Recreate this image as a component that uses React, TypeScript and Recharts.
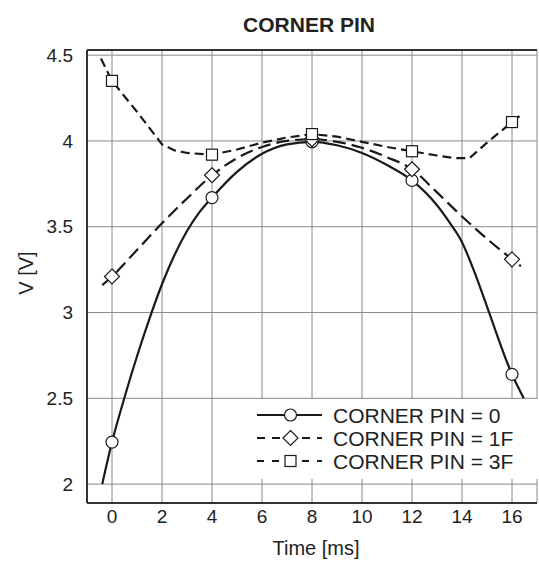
import React from 'react';
import {
  ComposedChart, Line, Scatter, XAxis, YAxis, CartesianGrid,
  ReferenceLine, Legend, Customized
} from 'recharts';

const FONT = '"Liberation Sans", Arial, Helvetica, sans-serif';
const INK = '#1a1a1a';

// axis ticks
const X_TICKS = [0, 2, 4, 6, 8, 10, 12, 14, 16];
const Y_TICKS = [2, 2.5, 3, 3.5, 4, 4.5];
const X_DOMAIN = [-1, 17];
const Y_DOMAIN = [1.89, 4.53];

// measured samples (markers)
const SAMPLE_TIMES = [0, 4, 8, 12, 16];
const PIN0_SAMPLES = [2.245, 3.67, 3.995, 3.77, 2.64];
const PIN1F_SAMPLES = [3.21, 3.8, 4.01, 3.835, 3.31];
const PIN3F_SAMPLES = [4.35, 3.92, 4.04, 3.94, 4.11];

// fitted curves: [time, volts]
const PIN0_CURVE: [number, number][] = [
  [-0.39, 2.0], [0, 2.245], [0.5, 2.505], [1, 2.745], [1.5, 2.965], [2, 3.165],
  [2.5, 3.335], [3, 3.475], [3.5, 3.585], [4, 3.67], [5, 3.82], [6, 3.925],
  [7, 3.98], [8, 3.995], [9, 3.975], [10, 3.93], [11, 3.86], [12, 3.77],
  [13, 3.625], [13.5, 3.525], [14, 3.41], [14.5, 3.235], [15, 3.035],
  [16, 2.64], [16.47, 2.5],
];
const PIN1F_CURVE: [number, number][] = [
  [-0.39, 3.16], [0, 3.21], [1, 3.365], [2, 3.52], [3, 3.665], [4, 3.8],
  [5, 3.9], [6, 3.965], [7, 4.0], [8, 4.01], [9, 3.995], [10, 3.96],
  [11, 3.905], [12, 3.835], [13, 3.7], [14, 3.56], [15, 3.43], [16, 3.31],
  [16.36, 3.27],
];
const PIN3F_CURVE: [number, number][] = [
  [-0.44, 4.48], [0, 4.35], [1, 4.17], [2, 3.98], [2.5, 3.945], [3, 3.93],
  [4, 3.92], [5, 3.95], [6, 3.99], [7, 4.02], [8, 4.04], [9, 4.025],
  [10, 3.995], [11, 3.965], [12, 3.94], [13, 3.915], [13.7, 3.9],
  [14.3, 3.9], [15, 3.99], [16, 4.11], [16.3, 4.145],
];

const toPoints = (pairs: [number, number][]) => pairs.map(([x, y]) => ({ x, y }));
const toSamples = (values: number[]) => SAMPLE_TIMES.map((x, i) => ({ x, y: values[i] }));

const SERIES = [
  { name: 'CORNER PIN = 0', curve: PIN0_CURVE, samples: PIN0_SAMPLES, dash: undefined, legendDash: undefined, marker: 'circle' },
  { name: 'CORNER PIN = 1F', curve: PIN1F_CURVE, samples: PIN1F_SAMPLES, dash: '13 6', legendDash: '8 7', marker: 'diamond' },
  { name: 'CORNER PIN = 3F', curve: PIN3F_CURVE, samples: PIN3F_SAMPLES, dash: '9 5', legendDash: '7 8', marker: 'square' },
];

const Marker = ({ kind, cx, cy }: { kind: string; cx: number; cy: number }) => {
  const common = { fill: '#fff', stroke: INK, strokeWidth: 1.2 };
  if (kind === 'circle') return <circle cx={cx} cy={cy} r={6} {...common} />;
  if (kind === 'diamond') {
    const r = 7.5;
    return <polygon points={`${cx},${cy - r} ${cx + r},${cy} ${cx},${cy + r} ${cx - r},${cy}`} {...common} />;
  }
  return <rect x={cx - 5.5} y={cy - 5.5} width={11} height={11} {...common} />;
};

const LegendBox = () => (
  <svg width={294} height={80} style={{ display: 'block', background: '#fff' }}>
    {SERIES.map((s, i) => {
      const cy = 16 + i * 23;
      return (
        <g key={s.name}>
          <line x1={12} x2={77} y1={cy} y2={cy} stroke={INK} strokeWidth={2.2} strokeDasharray={s.legendDash} />
          <Marker kind={s.marker} cx={45.5} cy={cy} />
          <text x={88} y={cy} dominantBaseline="central" fontFamily={FONT} fontSize={21} fill="#222">
            {s.name}
          </text>
        </g>
      );
    })}
  </svg>
);

const Titles = () => (
  <g fontFamily={FONT} fill="#222">
    <text x={309} y={32} textAnchor="middle" fontSize={21} fontWeight="bold">CORNER PIN</text>
    <text x={316} y={555} textAnchor="middle" fontSize={20}>Time [ms]</text>
    <text x={0} y={0} textAnchor="middle" fontSize={20} transform="translate(33 273) rotate(-90)">V [V]</text>
  </g>
);

const App: React.FC = () => {
  const tickStyle = { fontFamily: FONT, fontSize: 19, fill: '#222' };
  return (
    <div style={{ position: 'absolute', left: 0, top: 0, background: '#fff' }}>
      <ComposedChart width={539} height={561} margin={{ top: 50, right: 2, bottom: 0, left: 0 }}>
        <CartesianGrid stroke="#8a8a8a" strokeWidth={1} />
        <XAxis
          dataKey="x" type="number" domain={X_DOMAIN} ticks={X_TICKS} allowDataOverflow
          height={58} tickLine={false} tickMargin={1} tick={tickStyle}
          axisLine={{ stroke: '#333', strokeWidth: 2 }}
        />
        <YAxis
          type="number" domain={Y_DOMAIN} ticks={Y_TICKS} allowDataOverflow
          width={87} tickLine={false} tickMargin={8} tick={tickStyle}
          axisLine={{ stroke: '#333', strokeWidth: 2 }}
        />
        <ReferenceLine y={Y_DOMAIN[1]} stroke="#333" strokeWidth={2} />
        {SERIES.map((s) => (
          <Line
            key={s.name} data={toPoints(s.curve)} dataKey="y" type={s.marker === 'square' ? 'linear' : 'monotone'}
            stroke={INK} strokeWidth={2.2} strokeDasharray={s.dash} dot={false} activeDot={false}
            isAnimationActive={false} legendType="none"
          />
        ))}
        {SERIES.map((s) => (
          <Scatter
            key={s.name + '-m'} data={toSamples(s.samples)} dataKey="y"
            shape={(p: any) => <Marker kind={s.marker} cx={p.cx} cy={p.cy} />}
            isAnimationActive={false} legendType="none"
          />
        ))}
        <Legend
          layout="horizontal" verticalAlign="middle" align="center"
          content={() => <LegendBox />}
          wrapperStyle={{ left: 245, top: 399, width: 294, height: 80 }}
        />
        <Customized component={<Titles />} />
      </ComposedChart>
    </div>
  );
};

export default App;
